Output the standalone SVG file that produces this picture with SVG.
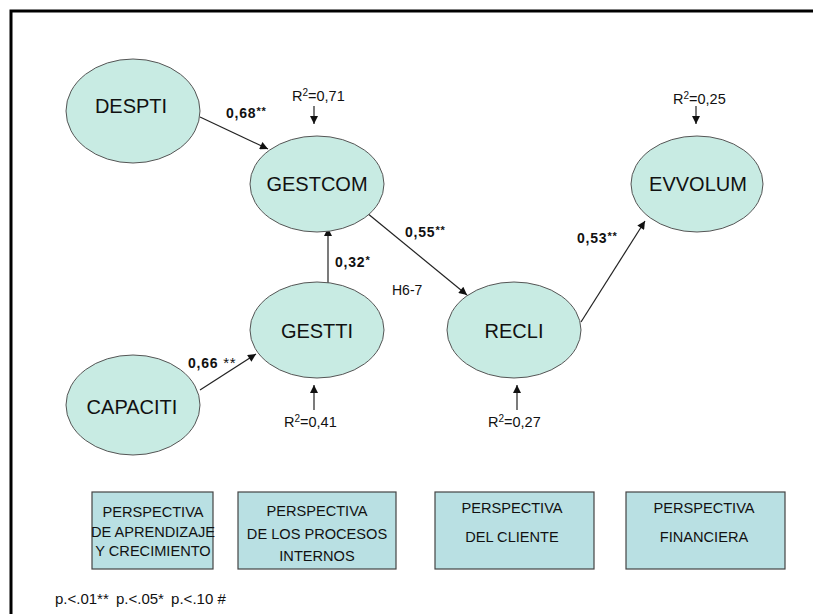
<svg xmlns="http://www.w3.org/2000/svg" width="813" height="614" viewBox="0 0 813 614">
  <style>
    .node ellipse { fill: #c8ebe3; stroke: #555; stroke-width: 1; }
    .node text { font-family: "Liberation Sans", Arial, sans-serif; font-size: 20px; fill: #111; text-anchor: middle; }
    .edge { stroke: #222; stroke-width: 1.2; fill: none; marker-end: url(#arrow); }
    .coef { font-family: "Liberation Sans", Arial, sans-serif; font-size: 14px; font-weight: bold; fill: #111; letter-spacing: 0.8px; }
    .coef tspan.sig { font-size: 11px; }
    .r2 { font-family: "Liberation Sans", Arial, sans-serif; font-size: 14.5px; fill: #111; }
    .r2 tspan.sup { font-size: 10px; }
    .note { font-family: "Liberation Sans", Arial, sans-serif; font-size: 14px; fill: #111; }
    .box rect { fill: #b9e0e3; stroke: #444; stroke-width: 1.2; }
    .box text { font-family: "Liberation Sans", Arial, sans-serif; font-size: 14.6px; fill: #111; text-anchor: middle; }
  </style>
  <defs>
    <marker id="arrow" viewBox="0 0 10 10" refX="10" refY="5" markerWidth="10" markerHeight="8" markerUnits="userSpaceOnUse" orient="auto">
      <path d="M0,0 L10,5 L0,10 z" fill="#111"/>
    </marker>
  </defs>

  <rect width="813" height="614" fill="#fff"/>
  <!-- outer frame: only the top and left sides fall inside the page -->
  <path d="M11,614 V11 H813" fill="none" stroke="#000" stroke-width="3"/>

  <!-- connectors -->
  <g id="connectors">
    <line class="edge" x1="200" y1="117" x2="268" y2="149"/>
    <line class="edge" x1="328" y1="283" x2="328" y2="228"/>
    <line class="edge" x1="367" y1="213" x2="467" y2="295"/>
    <line class="edge" x1="581" y1="322" x2="645" y2="221"/>
    <line class="edge" x1="200" y1="390" x2="256" y2="354"/>
    <line class="edge" x1="314" y1="106" x2="314" y2="124"/>
    <line class="edge" x1="696" y1="106" x2="696" y2="124"/>
    <line class="edge" x1="314" y1="410" x2="314" y2="385"/>
    <line class="edge" x1="517" y1="410" x2="517" y2="385"/>
  </g>

  <!-- path coefficients -->
  <g id="coefficients">
    <text class="coef" x="226" y="118">0,68<tspan class="sig" dy="-3">**</tspan></text>
    <text class="coef" x="335" y="267">0,32<tspan class="sig" dy="-3">*</tspan></text>
    <text class="coef" x="405" y="237">0,55<tspan class="sig" dy="-3">**</tspan></text>
    <text class="coef" x="577" y="243">0,53<tspan class="sig" dy="-3">**</tspan></text>
    <text class="coef" x="188" y="368">0,66 <tspan style="font-weight:normal;font-size:15px">**</tspan></text>
    <text class="note" x="392" y="295">H6-7</text>
  </g>

  <!-- explained variance -->
  <g id="r-squared">
    <text class="r2" x="292" y="101">R<tspan class="sup" dy="-5">2</tspan><tspan dy="5">=0,71</tspan></text>
    <text class="r2" x="673" y="104">R<tspan class="sup" dy="-5">2</tspan><tspan dy="5">=0,25</tspan></text>
    <text class="r2" x="284" y="427">R<tspan class="sup" dy="-5">2</tspan><tspan dy="5">=0,41</tspan></text>
    <text class="r2" x="488" y="427">R<tspan class="sup" dy="-5">2</tspan><tspan dy="5">=0,27</tspan></text>
  </g>

  <!-- constructs -->
  <g id="DESPTI" class="node">
    <ellipse cx="133" cy="111" rx="67" ry="52"/>
    <text x="131" y="113">DESPTI</text>
  </g>
  <g id="GESTCOM" class="node">
    <ellipse cx="317" cy="184" rx="67" ry="48"/>
    <text x="317" y="191">GESTCOM</text>
  </g>
  <g id="GESTTI" class="node">
    <ellipse cx="317" cy="330" rx="67" ry="48"/>
    <text x="317" y="338">GESTTI</text>
  </g>
  <g id="CAPACITI" class="node">
    <ellipse cx="133" cy="405" rx="67" ry="50"/>
    <text x="132" y="414">CAPACITI</text>
  </g>
  <g id="RECLI" class="node">
    <ellipse cx="514" cy="330" rx="67" ry="48"/>
    <text x="514" y="338">RECLI</text>
  </g>
  <g id="EVVOLUM" class="node">
    <ellipse cx="697" cy="184" rx="66" ry="48"/>
    <text x="698" y="191">EVVOLUM</text>
  </g>

  <!-- balanced scorecard perspectives -->
  <g id="persp-aprendizaje" class="box">
    <rect x="92" y="492" width="121" height="77"/>
    <text x="153" y="517">PERSPECTIVA</text>
    <text x="153" y="536.5">DE APRENDIZAJE</text>
    <text x="153" y="556">Y CRECIMIENTO</text>
  </g>
  <g id="persp-procesos" class="box">
    <rect x="238" y="492" width="158" height="77"/>
    <text x="317" y="516">PERSPECTIVA</text>
    <text x="317" y="539">DE LOS PROCESOS</text>
    <text x="317" y="561">INTERNOS</text>
  </g>
  <g id="persp-cliente" class="box">
    <rect x="435" y="492" width="159" height="77"/>
    <text x="512" y="513">PERSPECTIVA</text>
    <text x="512" y="542">DEL CLIENTE</text>
  </g>
  <g id="persp-financiera" class="box">
    <rect x="626" y="492" width="159" height="77"/>
    <text x="704" y="513">PERSPECTIVA</text>
    <text x="704" y="542">FINANCIERA</text>
  </g>

  <text class="note" x="55" y="604" style="font-size:15px">p.&lt;.01** <tspan dx="3">p.&lt;.05*</tspan> <tspan dx="3">p.&lt;.10 #</tspan></text>
</svg>
